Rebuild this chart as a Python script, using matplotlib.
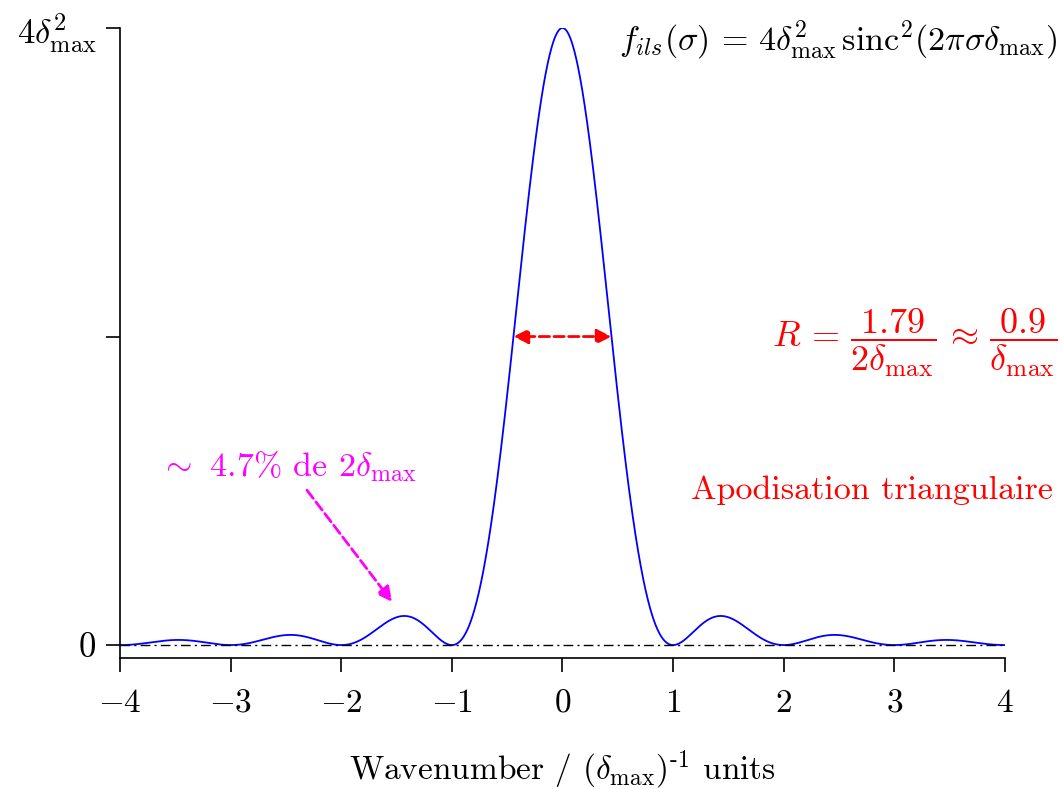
import numpy as np
import matplotlib.pyplot as plt

plt.rcParams['font.family'] = 'serif'
plt.rcParams['font.serif'] = ['cmr10']
plt.rcParams['mathtext.fontset'] = 'cm'
plt.rcParams['axes.unicode_minus'] = False

# axis data
x_ticks = [-4, -3, -2, -1, 0, 1, 2, 3, 4]
x_tick_labels = [r'$-4$', r'$-3$', r'$-2$', r'$-1$', r'$0$', r'$1$', r'$2$', r'$3$', r'$4$']
y_ticks = [0, 0.5, 1]
y_tick_labels = [r'$0$', '', r'$4\delta^2_{\mathrm{max}}$']

# instrument line shape, triangular apodisation (normalised to 4 delta_max^2)
sigma = np.linspace(-4, 4, 2001)
ils = np.sinc(sigma) ** 2

# half width and first side lobe
fwhm_half = 0.443
lobe_x, lobe_y = -1.43, 0.047

fig = plt.figure(figsize=(10.63, 7.89), dpi=100)
ax = fig.add_axes([0.1129, 0.166, 0.8325, 0.7985])

ax.plot(sigma, ils, color='blue', lw=1.3)
ax.plot([-4, 4], [0, 0], color='black', lw=1.0, ls=(0, (7, 3, 1.5, 3)))

ax.set_xlim(-4, 4)
ax.set_ylim(-0.021, 1.0)
ax.set_xticks(x_ticks)
ax.set_xticklabels(x_tick_labels)
ax.set_yticks(y_ticks)
ax.set_yticklabels(y_tick_labels)
ax.tick_params(labelsize=24, length=10, width=1.2, direction='out')
ax.tick_params(axis='x', pad=12)
ax.tick_params(axis='y', pad=7, labelsize=25)
for s in ['top', 'right']:
    ax.spines[s].set_visible(False)
for s in ['left', 'bottom']:
    ax.spines[s].set_linewidth(1.2)

ax.set_xlabel(r'Wavenumber / $(\delta_{\mathrm{max}})^{\text{-1}}$ units', fontsize=24, labelpad=22)

# FWHM arrow
ax.annotate('', xy=(-fwhm_half, 0.5), xytext=(fwhm_half, 0.5),
            arrowprops=dict(arrowstyle='<|-|>', color='red', lw=2.0, ls='--',
                            mutation_scale=22, shrinkA=0, shrinkB=0))

# side lobe arrow
ax.annotate('', xy=(-1.54, 0.07), xytext=(-2.31, 0.251),
            arrowprops=dict(arrowstyle='-|>', color='magenta', lw=2.0, ls='--',
                            mutation_scale=22, shrinkA=0, shrinkB=0))
ax.text(-3.64, 0.29, r'$\sim$ 4.7% de $2\delta_{\mathrm{max}}$', color='magenta',
        fontsize=24.5, ha='left', va='center')

ax.text(4.47, 0.98, r'$f_{ils}(\sigma)\,=\,4\delta^2_{\mathrm{max}}\,\mathrm{sinc}^2(2\pi\sigma\delta_{\mathrm{max}})$',
        fontsize=24.5, ha='right', va='center', clip_on=False)
ax.text(4.47, 0.49, r'$R\, =\, \dfrac{1.79}{2\delta_{\mathrm{max}}}\, \approx\, \dfrac{0.9}{\delta_{\mathrm{max}}}$',
        fontsize=26, color='red', ha='right', va='center', clip_on=False)
ax.text(4.43, 0.251, 'Apodisation triangulaire', fontsize=24.5, color='red',
        ha='right', va='center', clip_on=False)

fig.savefig('out.png', dpi=100)
